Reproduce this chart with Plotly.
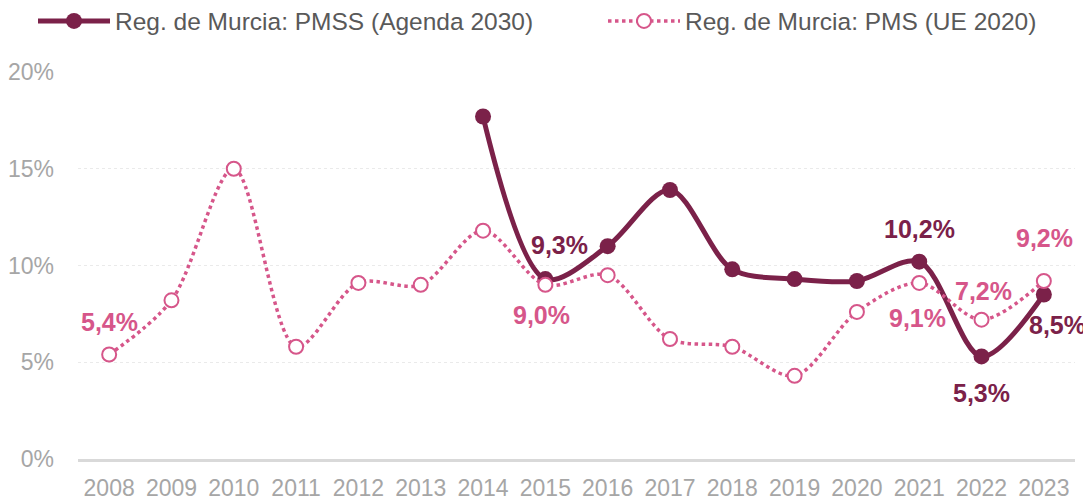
import plotly.graph_objects as go

# Datos (porcentajes)
anios = [str(a) for a in range(2008, 2024)]
pmss_agenda2030 = [None, None, None, None, None, None,
                   17.7, 9.3, 11.0, 13.9, 9.8, 9.3, 9.2, 10.2, 5.3, 8.5]
pms_ue2020 = [5.4, 8.2, 15.0, 5.8, 9.1, 9.0,
              11.8, 9.0, 9.5, 6.2, 5.8, 4.3, 7.6, 9.1, 7.2, 9.2]
nombre_pmss = "Reg. de Murcia: PMSS (Agenda 2030)"
nombre_pms = "Reg. de Murcia: PMS (UE 2020)"
y_ticks = [0, 5, 10, 15, 20]
y_ticktext = ["0%", "5%", "10%", "15%", "20%"]

GRANATE = "#7B2149"
ROSA = "#D6568A"
FUENTE = "Liberation Sans, Arial, sans-serif"

# etiquetas de datos: (serie, año, desplazamiento x, desplazamiento y)
etiquetas = [
    ("pms", "2008", 0, 33),
    ("pms", "2015", -4, -30),
    ("pms", "2021", -2, -35),
    ("pms", "2022", 2, 29),
    ("pms", "2023", 1, 43),
    ("pmss", "2015", 14, 34),
    ("pmss", "2021", 0, 33),
    ("pmss", "2022", 0, -37),
    ("pmss", "2023", 14, -30),
]


def fmt(v):
    return f"{v:.1f}".replace(".", ",") + "%"


fig = go.Figure()
fig.add_trace(go.Scatter(
    x=anios, y=pmss_agenda2030, name=nombre_pmss,
    mode="lines+markers",
    line=dict(color=GRANATE, width=5, shape="spline", smoothing=0.9),
    marker=dict(color=GRANATE, size=16, symbol="circle"),
    connectgaps=False, legend="legend",
))
fig.add_trace(go.Scatter(
    x=anios, y=pms_ue2020, name=nombre_pms,
    mode="lines+markers",
    line=dict(color=ROSA, width=3.5, dash="dot", shape="spline", smoothing=0.9),
    marker=dict(color="white", size=14, symbol="circle",
                line=dict(color=ROSA, width=2)),
    legend="legend2",
))

series = {"pms": (pms_ue2020, ROSA), "pmss": (pmss_agenda2030, GRANATE)}
for serie, anio, dx, dy in etiquetas:
    valores, color = series[serie]
    i = anios.index(anio)
    v = valores[i]
    fig.add_annotation(
        x=i, y=v, xref="x", yref="y", text="<b>" + fmt(v) + "</b>",
        showarrow=False, xshift=dx, yshift=dy,
        font=dict(family=FUENTE, size=25, color=color),
    )

fig.update_xaxes(
    type="category", range=[-0.5, 15.5], automargin=False,
    showgrid=False, showline=True, linecolor="#D9D9D9", linewidth=3,
    ticks="", ticklabelstandoff=6,
    tickfont=dict(family=FUENTE, size=23, color="#A6A6A6"),
)
fig.update_yaxes(
    range=[0, 20], tickmode="array", tickvals=y_ticks, ticktext=y_ticktext,
    automargin=False,
    showgrid=True, gridcolor="#EAEAEA", griddash="dot", gridwidth=1,
    zeroline=False, showline=False, ticks="", ticklabelstandoff=23,
    tickfont=dict(family=FUENTE, size=23, color="#A6A6A6"),
)

leyenda = dict(
    orientation="h", y=1 - 13 / 499, xref="container", yref="container",
    xanchor="left", yanchor="middle",
    font=dict(family=FUENTE, size=24.5, color="#595959"),
    itemwidth=72,
)
fig.update_layout(
    width=1091, height=499,
    margin=dict(l=70, r=24, t=64, b=48, autoexpand=False),
    plot_bgcolor="white", paper_bgcolor="white",
    font=dict(family=FUENTE),
    legend=dict(leyenda, x=25 / 1091),
    legend2=dict(leyenda, x=595 / 1091),
    showlegend=True,
)

fig.write_html("out.html")
